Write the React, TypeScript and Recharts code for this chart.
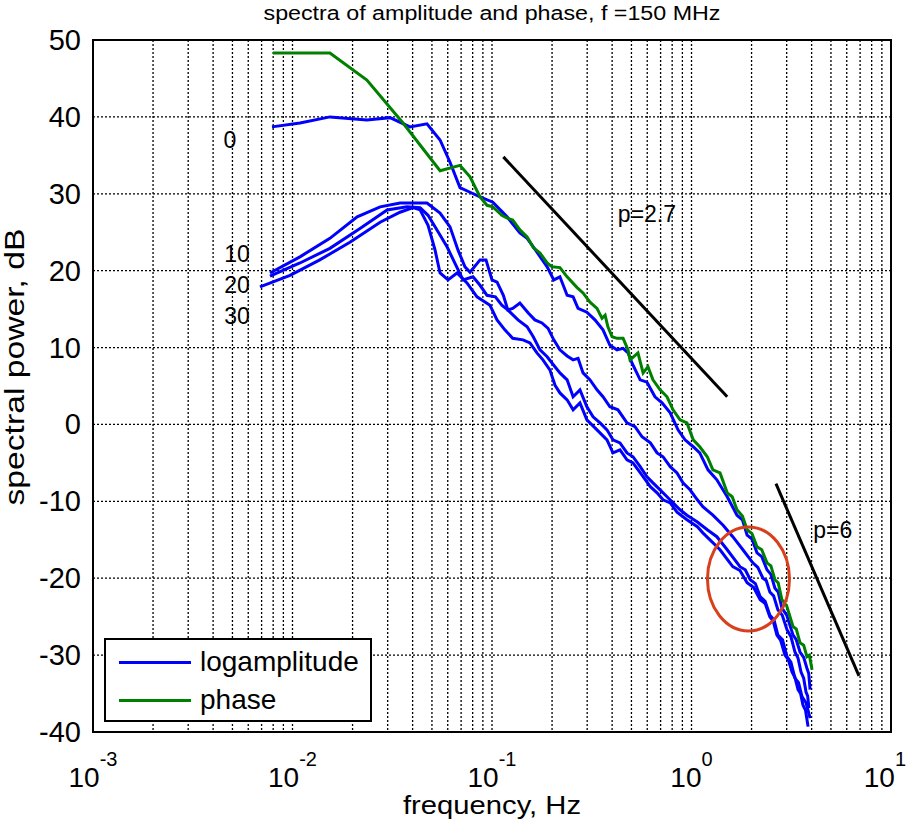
import React from 'react'
import { LineChart, Line, XAxis, YAxis, CartesianGrid, ReferenceArea, ReferenceDot, Legend } from 'recharts'

const FONT = '"Liberation Sans", Arial, Helvetica, sans-serif'

// axis ticks (log grid, every integer multiple of each decade)
const freqGrid = [
  0.001, 0.002, 0.003, 0.004, 0.005, 0.006, 0.007, 0.008, 0.009,
  0.01, 0.02, 0.03, 0.04, 0.05, 0.06, 0.07, 0.08, 0.09,
  0.1, 0.2, 0.3, 0.4, 0.5, 0.6, 0.7, 0.8, 0.9,
  1, 2, 3, 4, 5, 6, 7, 8, 9, 10,
]
const decades = [0.001, 0.01, 0.1, 1, 10]
const decadeExp = ['-3', '-2', '-1', '0', '1']
const dbTicks = [-40, -30, -20, -10, 0, 10, 20, 30, 40, 50]

// [frequency Hz, spectral power dB]
const phase = [
  [0.00798, 48.3], [0.0154, 48.3], [0.0236, 44.8], [0.0358, 39.2], [0.0549, 33.0], [0.0691, 33.7],
  [0.0776, 32.2], [0.0871, 29.6], [0.0944, 28.5], [0.101, 28.3], [0.112, 27.2], [0.120, 26.8],
  [0.127, 26.6], [0.138, 25.3], [0.150, 24.4], [0.161, 23.0], [0.174, 22.3], [0.189, 21.0],
  [0.200, 20.5], [0.219, 20.4], [0.238, 19.2], [0.267, 17.8], [0.286, 17.1], [0.310, 15.9],
  [0.336, 15.1], [0.356, 13.8], [0.369, 14.2], [0.381, 12.7], [0.400, 11.4], [0.423, 11.2],
  [0.454, 11.2], [0.481, 9.7], [0.492, 8.4], [0.539, 9.3], [0.572, 6.7], [0.605, 7.5],
  [0.641, 5.8], [0.696, 4.5], [0.754, 3.6], [0.808, 1.9], [0.876, 0.6], [0.949, 0.2],
  [1.02, -2.0], [1.10, -2.9], [1.20, -4.2], [1.28, -5.9], [1.39, -6.3], [1.51, -8.9],
  [1.60, -9.4], [1.69, -11.1], [1.80, -11.9], [1.90, -13.7], [2.01, -14.2], [2.13, -15.9],
  [2.25, -16.3], [2.39, -18.0], [2.50, -18.4], [2.62, -20.2], [2.72, -20.6], [2.84, -22.8],
  [3.00, -23.6], [3.23, -26.3], [3.35, -26.6], [3.50, -28.4], [3.65, -28.7], [3.79, -30.2],
  [3.90, -30.0], [4.02, -31.9],
]

const amp0 = [
  [0.00789, 38.7], [0.0109, 39.2], [0.0154, 40.0], [0.0236, 39.6], [0.0308, 39.9], [0.0388, 38.7],
  [0.0472, 39.1], [0.0549, 37.0], [0.0616, 34.1], [0.0691, 30.8], [0.0776, 30.2], [0.0871, 29.6],
  [0.101, 28.9], [0.119, 27.0], [0.138, 24.9], [0.150, 24.2], [0.161, 23.1], [0.189, 20.5],
  [0.204, 18.8], [0.219, 19.2], [0.238, 16.8], [0.255, 16.6], [0.270, 15.1], [0.299, 14.6],
  [0.328, 13.6], [0.360, 12.3], [0.390, 10.3], [0.423, 9.7], [0.454, 9.9], [0.481, 9.3],
  [0.503, 8.0], [0.553, 5.8], [0.598, 5.5], [0.656, 3.6], [0.712, 2.8], [0.782, 1.5],
  [0.856, -0.7], [0.928, -2.0], [1.02, -2.9], [1.10, -3.7], [1.21, -5.9], [1.34, -7.2],
  [1.51, -9.4], [1.69, -11.8], [1.80, -12.4], [1.90, -14.4], [2.01, -14.9], [2.13, -16.7],
  [2.25, -17.2], [2.39, -18.9], [2.50, -19.5], [2.62, -21.3], [2.72, -21.8], [2.84, -23.9],
  [3.00, -24.8], [3.23, -27.4], [3.35, -28.0], [3.50, -29.6], [3.65, -30.3], [3.79, -31.7],
  [3.87, -32.4], [3.93, -34.5],
]

const amp10 = [
  [0.00771, 19.7], [0.0109, 21.8], [0.0154, 24.2], [0.0211, 27.0], [0.0275, 28.3], [0.0346, 28.8],
  [0.0472, 28.8], [0.0549, 27.5], [0.0616, 25.7], [0.0675, 22.7], [0.0732, 20.5], [0.0776, 19.8],
  [0.0871, 21.4], [0.0933, 21.4], [0.100, 18.8], [0.106, 18.5], [0.114, 16.8], [0.120, 14.9],
  [0.127, 15.1], [0.138, 15.8], [0.152, 14.5], [0.164, 13.6], [0.178, 13.2], [0.191, 12.5],
  [0.204, 11.0], [0.219, 9.7], [0.238, 8.9], [0.255, 8.4], [0.270, 8.6], [0.286, 6.7],
  [0.310, 5.8], [0.336, 4.5], [0.360, 3.6], [0.390, 2.3], [0.428, 1.9], [0.475, 0.2],
  [0.521, -0.3], [0.565, -1.6], [0.622, -2.4], [0.672, -3.7], [0.720, -4.2], [0.782, -5.5],
  [0.846, -6.3], [0.906, -7.6], [0.983, -8.5], [1.07, -9.8], [1.14, -10.7], [1.28, -11.8],
  [1.44, -13.1], [1.61, -14.6], [1.81, -16.3], [2.03, -18.0], [2.15, -18.6], [2.28, -20.0],
  [2.37, -20.3], [2.47, -21.8], [2.58, -22.3], [2.71, -24.1], [2.85, -24.8], [3.01, -26.7],
  [3.15, -27.6], [3.30, -29.6], [3.42, -30.4], [3.54, -32.2], [3.65, -33.0], [3.75, -34.8],
  [3.82, -35.3], [3.88, -36.9],
]

const amp20 = [
  [0.00771, 19.3], [0.0109, 21.0], [0.0154, 22.9], [0.0218, 25.5], [0.0298, 27.9], [0.0375, 28.3],
  [0.0436, 28.2], [0.0478, 27.2], [0.0530, 25.3], [0.0595, 23.1], [0.0668, 20.4], [0.0716, 18.8],
  [0.0803, 19.2], [0.0871, 18.1], [0.0944, 16.8], [0.104, 16.6], [0.112, 15.5], [0.120, 14.9],
  [0.135, 13.6], [0.150, 12.7], [0.161, 11.4], [0.174, 9.7], [0.189, 8.8], [0.204, 7.7],
  [0.219, 6.7], [0.238, 5.8], [0.255, 3.6], [0.276, 4.5], [0.299, 2.3], [0.321, 1.0],
  [0.348, 0.2], [0.377, -0.7], [0.404, -2.0], [0.438, -2.4], [0.475, -3.7], [0.509, -4.2],
  [0.553, -5.5], [0.598, -6.8], [0.641, -7.6], [0.696, -8.5], [0.754, -9.4], [0.808, -10.2],
  [0.876, -11.1], [0.949, -11.8], [1.07, -12.7], [1.20, -13.7], [1.34, -14.6], [1.51, -16.3],
  [1.75, -18.5], [1.86, -18.9], [1.97, -20.2], [2.09, -20.7], [2.21, -22.4], [2.34, -23.0],
  [2.47, -24.8], [2.59, -25.4], [2.71, -27.4], [2.86, -28.0], [3.01, -30.2], [3.15, -30.9],
  [3.30, -33.0], [3.44, -33.6], [3.58, -35.4], [3.75, -36.2], [3.93, -38.2],
]

const amp30 = [
  [0.00687, 17.9], [0.00972, 19.4], [0.0137, 21.4], [0.0194, 23.7], [0.0275, 26.3], [0.0346, 27.6],
  [0.0402, 28.2], [0.0436, 27.9], [0.0478, 25.9], [0.0518, 22.7], [0.0549, 19.7], [0.0602, 18.8],
  [0.0668, 19.7], [0.0749, 18.4], [0.0841, 16.6], [0.0977, 15.5], [0.106, 13.6], [0.116, 12.3],
  [0.127, 11.2], [0.143, 11.0], [0.155, 10.6], [0.168, 9.3], [0.180, 8.4], [0.195, 7.1],
  [0.207, 5.1], [0.219, 4.1], [0.238, 3.2], [0.255, 1.9], [0.276, 2.8], [0.299, 0.6],
  [0.336, -0.7], [0.377, -2.0], [0.404, -3.7], [0.438, -3.3], [0.475, -4.6], [0.509, -5.0],
  [0.572, -6.8], [0.622, -8.1], [0.672, -8.9], [0.720, -9.8], [0.782, -10.2], [0.846, -11.4],
  [0.949, -12.4], [1.07, -13.3], [1.14, -14.1], [1.39, -16.3], [1.61, -18.5], [1.75, -19.0],
  [1.90, -20.6], [2.05, -21.2], [2.21, -22.8], [2.34, -23.3], [2.47, -25.0], [2.57, -25.6],
  [2.68, -27.4], [2.80, -28.1], [2.94, -30.0], [3.06, -30.6], [3.19, -32.2], [3.30, -32.9],
  [3.42, -34.5], [3.52, -35.0], [3.62, -36.5], [3.73, -37.2], [3.84, -39.3],
]

// fitted power-law guides
const slope27 = [[0.114, 34.8], [1.51, 3.6]]
const slope6 = [[2.65, -7.7], [6.91, -32.7]]

// annotations
const noteText = ['0', '10', '20', '30', 'p=2.7', 'p=6']
const noteFreq = [0.00486, 0.00527, 0.00527, 0.00527, 0.598, 5.11]
const noteDb = [37.0, 22.2, 18.1, 14.1, 27.4, -13.7]
const circleFreq = 1.93
const circleDb = -20.1

const rows = (pts: number[][]) => pts.map(([f, db]) => ({ f, db }))

const FreqTick = (props: any) => {
  const { x, y, payload } = props
  const k = decades.findIndex((d) => Math.abs(d - payload.value) / d < 1e-6)
  if (k < 0) return null
  const last = k === decades.length - 1
  return (
    <text
      x={last ? 906 : x}
      y={y + 53}
      textAnchor={last ? 'end' : 'middle'}
      fontFamily={FONT}
      fontSize={28}
      fill="#000"
    >
      10<tspan dy={-21} fontSize={20}>{decadeExp[k]}</tspan>
    </text>
  )
}

const DbTick = (props: any) => {
  const { x, y, payload } = props
  return (
    <text x={x - 10} y={y + 10} textAnchor="end" fontFamily={FONT} fontSize={29} fill="#000">
      {payload.value}
    </text>
  )
}

const LegendBox = (props: any) => {
  const items = (props.payload || []).filter((p: any) => p.type !== 'none')
  return (
    <div
      style={{
        width: 268,
        height: 84,
        boxSizing: 'border-box',
        border: '2px solid #000',
        background: '#fff',
        paddingTop: 3,
        fontFamily: FONT,
      }}
    >
      {items.map((it: any) => (
        <div key={it.value} style={{ display: 'flex', alignItems: 'center', height: 38 }}>
          <span style={{ display: 'inline-block', width: 72, height: 3, background: it.color, marginLeft: 13, marginRight: 9 }} />
          <span style={{ fontSize: 28, lineHeight: '38px', color: '#000' }}>{it.value}</span>
        </div>
      ))}
    </div>
  )
}

export default function App() {
  return (
    <div style={{ position: 'absolute', left: 0, top: 0, width: 908, height: 820, background: '#fff' }}>
      <svg width={908} height={30} style={{ position: 'absolute', left: 0, top: 0, zIndex: 1 }}>
        <text x={492} y={20} textAnchor="middle" fontFamily={FONT} fontSize={20} textLength={457} lengthAdjust="spacingAndGlyphs" fill="#000">
          spectra of amplitude and phase, f =150 MHz
        </text>
      </svg>
      <LineChart width={908} height={820} margin={{ top: 40, right: 17, bottom: 28, left: 13 }}>
        <CartesianGrid stroke="#000" strokeDasharray="2 2" strokeWidth={1.3} />
        <XAxis
          dataKey="f"
          type="number"
          scale="log"
          domain={[0.001, 10]}
          allowDataOverflow
          ticks={freqGrid}
          interval={0}
          tick={<FreqTick />}
          tickLine={false}
          tickSize={0}
          axisLine={false}
          height={60}
          label={(p: any) => (
            <text
              x={p.viewBox.x + p.viewBox.width / 2}
              y={p.viewBox.y + 82}
              textAnchor="middle"
              fontFamily={FONT}
              fontSize={26}
              textLength={178}
              lengthAdjust="spacingAndGlyphs"
              fill="#000"
            >
              frequency, Hz
            </text>
          )}
        />
        <YAxis
          type="number"
          domain={[-40, 50]}
          allowDataOverflow
          ticks={dbTicks}
          interval={0}
          tick={<DbTick />}
          tickLine={false}
          tickSize={0}
          axisLine={false}
          width={80}
          label={(p: any) => {
            const cx = p.viewBox.x + 1
            const cy = 367
            return (
              <text
                x={cx}
                y={cy}
                transform={`rotate(-90 ${cx} ${cy})`}
                textAnchor="middle"
                dominantBaseline="central"
                fontFamily={FONT}
                fontSize={28}
                textLength={277}
                lengthAdjust="spacingAndGlyphs"
                fill="#000"
              >
                spectral power, dB
              </text>
            )
          }}
        />
        <ReferenceArea x1={0.001} x2={10} y1={-40} y2={50} fill="none" stroke="#000" strokeWidth={2} ifOverflow="visible" />
        <Line data={rows(amp0)} dataKey="db" name="logamplitude" stroke="#0000ff" strokeWidth={3} dot={false} isAnimationActive={false} />
        <Line data={rows(amp10)} dataKey="db" name="amp10" legendType="none" stroke="#0000ff" strokeWidth={3} dot={false} isAnimationActive={false} />
        <Line data={rows(amp20)} dataKey="db" name="amp20" legendType="none" stroke="#0000ff" strokeWidth={3} dot={false} isAnimationActive={false} />
        <Line data={rows(amp30)} dataKey="db" name="amp30" legendType="none" stroke="#0000ff" strokeWidth={3} dot={false} isAnimationActive={false} />
        <Line data={rows(phase)} dataKey="db" name="phase" stroke="#008000" strokeWidth={3} dot={false} isAnimationActive={false} />
        <Line data={rows(slope27)} dataKey="db" name="p27" legendType="none" stroke="#000" strokeWidth={3} dot={false} isAnimationActive={false} />
        <Line data={rows(slope6)} dataKey="db" name="p6" legendType="none" stroke="#000" strokeWidth={3} dot={false} isAnimationActive={false} />
        {noteText.map((t, i) => (
          <ReferenceDot
            key={t}
            x={noteFreq[i]}
            y={noteDb[i]}
            r={0}
            ifOverflow="visible"
            shape={(p: any) => (
              <text x={p.cx} y={p.cy + 8} textAnchor="middle" fontFamily={FONT} fontSize={23} fill="#000">
                {t}
              </text>
            )}
          />
        ))}
        <ReferenceDot
          x={circleFreq}
          y={circleDb}
          r={0}
          ifOverflow="visible"
          shape={(p: any) => <ellipse cx={p.cx} cy={p.cy} rx={41} ry={52} fill="none" stroke="#d7401c" strokeWidth={3} />}
        />
        <Legend
          layout="vertical"
          align="center"
          verticalAlign="middle"
          content={<LegendBox />}
          wrapperStyle={{ left: 104, top: 638, width: 268, height: 84 }}
        />
      </LineChart>
    </div>
  )
}
